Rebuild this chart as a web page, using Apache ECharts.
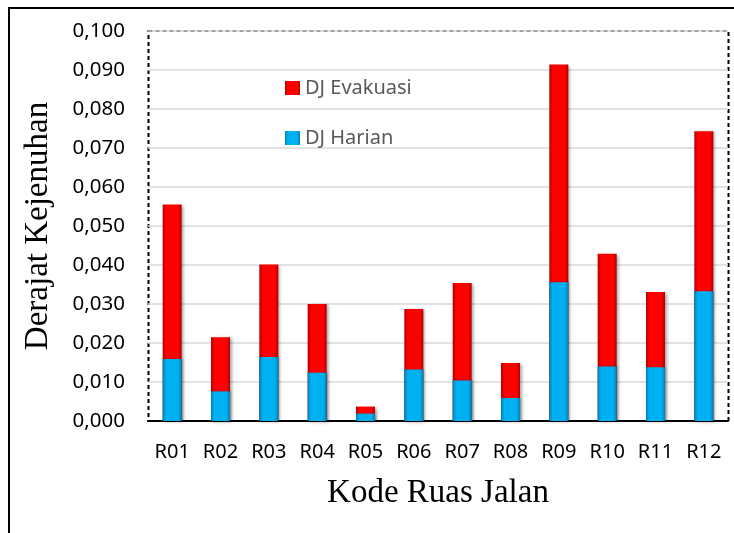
<!DOCTYPE html>
<html>
<head>
<meta charset="utf-8">
<script src="https://cdn.jsdelivr.net/npm/echarts@6/dist/echarts.min.js"></script>
<style>html,body{margin:0;padding:0;background:#fff;}#c{width:734px;height:533px;}</style>
</head>
<body>
<div id="c"></div>
<script>
const categories = ['R01','R02','R03','R04','R05','R06','R07','R08','R09','R10','R11','R12'];
const djEvakuasi = [0.0555,0.0215,0.0401,0.0300,0.0037,0.0287,0.0354,0.0149,0.0914,0.0429,0.0331,0.0743];
const djHarian   = [0.0159,0.0076,0.0164,0.0124,0.0019,0.0132,0.0104,0.0059,0.0356,0.0140,0.0138,0.0333];
const yTickMin = 0, yTickMax = 0.1, yTickStep = 0.01;

const chart = echarts.init(document.getElementById('c'), null, {renderer:'canvas'});
function grad(edge, mid){
  return new echarts.graphic.LinearGradient(0,0,1,0,[
    {offset:0,color:edge},{offset:0.18,color:mid},{offset:0.82,color:mid},{offset:1,color:edge}
  ]);
}
const labelFont = '"Noto Sans", sans-serif';
const serif = '"Liberation Serif", "Times New Roman", serif';
chart.setOption({
  animation:false,
  backgroundColor:'#fff',
  graphic:[
    {type:'rect', shape:{x:9,y:8,width:800,height:600}, style:{fill:'none',stroke:'#000',lineWidth:2}, z:-10},
    {type:'rect', shape:{x:148.5,y:31,width:580,height:390}, style:{fill:'none',stroke:'#000',lineWidth:2,lineDash:[4,3]}, z:-5}
  ],
  grid:{left:148, right:6, top:31, bottom:112, containLabel:false},
  legend:{
    orient:'vertical', left:280, top:73, itemWidth:15, itemHeight:14, itemGap:30, icon:'rect',
    textStyle:{color:'#595959', fontSize:20, fontFamily:labelFont},
    data:['DJ Evakuasi','DJ Harian']
  },
  xAxis:{
    type:'category', data:categories,
    axisLine:{show:true, lineStyle:{color:'#000', width:2}},
    axisTick:{show:false},
    axisLabel:{color:'#000', fontSize:20, fontFamily:labelFont, margin:21},
    name:'Kode Ruas Jalan', nameLocation:'middle', nameGap:56,
    nameTextStyle:{color:'#000', fontSize:33, fontFamily:serif}
  },
  yAxis:{
    type:'value', min:yTickMin, max:yTickMax, interval:yTickStep,
    axisLine:{show:false}, axisTick:{show:false},
    splitLine:{lineStyle:{color:'#d9d9d9', width:1.5}},
    axisLabel:{color:'#000', fontSize:20.5, fontFamily:labelFont, margin:23,
      formatter:v=>v.toFixed(3).replace('.',',')},
    name:'Derajat Kejenuhan', nameLocation:'middle', nameGap:93,
    nameTextStyle:{color:'#000', fontSize:33, fontFamily:serif}
  },
  series:[
    {name:'DJ Evakuasi', type:'bar', data:djEvakuasi, barWidth:19, barGap:'-100%',
     itemStyle:{color:grad('#b00000','#ff0000'), shadowColor:'rgba(0,0,0,0.35)', shadowBlur:3, shadowOffsetX:2, shadowOffsetY:1}},
    {name:'DJ Harian', type:'bar', data:djHarian, barWidth:19,
     itemStyle:{color:grad('#0080b8','#00b0f0'), shadowColor:'rgba(0,0,0,0.25)', shadowBlur:2, shadowOffsetX:1, shadowOffsetY:0}}
  ]
});
</script>
</body>
</html>
